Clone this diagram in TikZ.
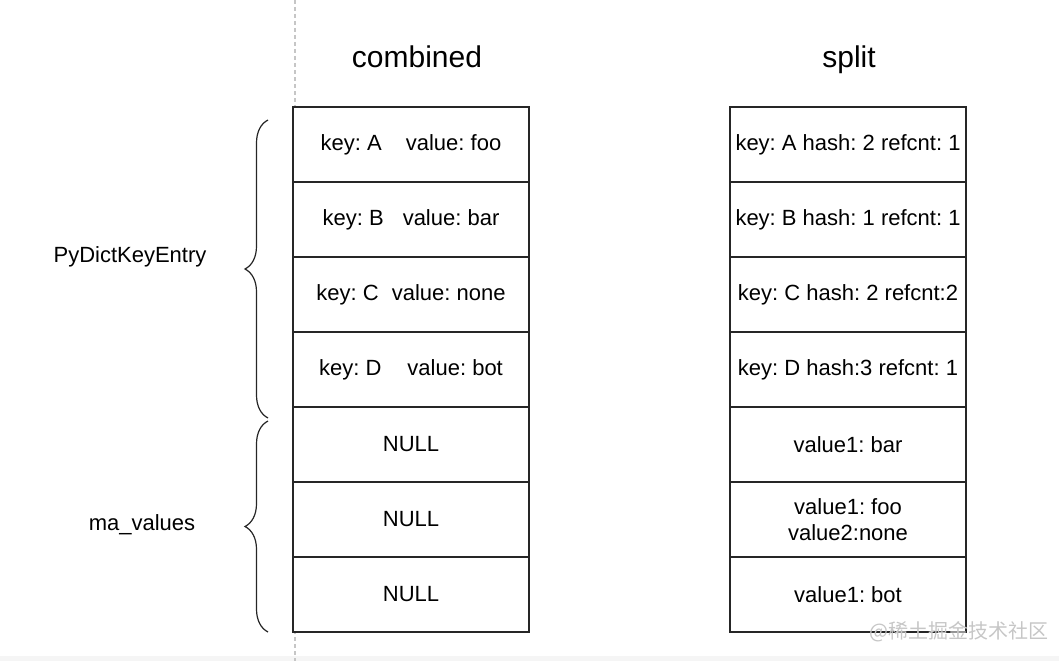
\documentclass[tikz,border=0pt]{standalone}
\usepackage{fontspec}
\setmainfont{Liberation Sans}
\newfontfamily\cjkfont{Noto Sans CJK SC}
\usetikzlibrary{positioning, decorations.pathreplacing}
\frenchspacing

\begin{document}
\begin{tikzpicture}[x=1pt, y=-1pt, font=\fontsize{22}{26}\selectfont,
    cell/.style={draw=linecolor, line width=1.3pt, fill=white, minimum width=236pt,
        minimum height=75pt, inner sep=0pt, outer sep=0pt, align=center},
    curly/.style={decorate, decoration={brace, amplitude=23pt}, draw=linecolor, line width=1.2pt},
    heading/.style={font=\fontsize{30}{36}\selectfont, anchor=base}]

    % Define colors
    \colorlet{linecolor}{black!85}
    \colorlet{guidecolor}{gray!45}

    \useasboundingbox (0,0) rectangle (1059,661);

    % ===== Background guide and bottom strip =====
    \fill[gray!8] (0,656) rectangle (1059,661);
    \draw[guidecolor, line width=1.2pt, dash pattern=on 4pt off 3pt] (295,0) -- (295,661);

    % 1. Headings
    \node[heading] (combined) at (417,67) {combined};
    \node[heading] (split) at (849,67) {split};

    % 2. Combined table
    \node[cell, anchor=north west] (c1) at (293,107) {key: A\hspace{24pt}value: foo};
    \node[cell, below=0pt of c1] (c2) {key: B\hspace{19pt}value: bar};
    \node[cell, below=0pt of c2] (c3) {key: C\hspace{13pt}value: none};
    \node[cell, below=0pt of c3] (c4) {key: D\hspace{26pt}value: bot};
    \node[cell, below=0pt of c4] (c5) {NULL};
    \node[cell, below=0pt of c5] (c6) {NULL};
    \node[cell, below=0pt of c6] (c7) {NULL};

    % 3. Split table
    \node[cell, anchor=north west] (s1) at (730,107) {key: A hash: 2 refcnt: 1};
    \node[cell, below=0pt of s1] (s2) {key: B hash: 1 refcnt: 1};
    \node[cell, below=0pt of s2] (s3) {key: C hash: 2 refcnt:2};
    \node[cell, below=0pt of s3] (s4) {key: D hash:3 refcnt: 1};
    \node[cell, below=0pt of s4] (s5) {value1: bar};
    \node[cell, below=0pt of s5] (s6) {value1: foo\\value2:none};
    \node[cell, below=0pt of s6] (s7) {value1: bot};

    % 4. Braces and their labels
    \coordinate (keyTop) at (268,120);
    \coordinate (keyBottom) at (268,418);
    \coordinate (valTop) at (268,421);
    \coordinate (valBottom) at (268,632);
    \draw[curly] (keyBottom) -- (keyTop);
    \draw[curly] (valBottom) -- (valTop);
    \node (keyLabel) at (130,257) {PyDictKeyEntry};
    \node (valLabel) at (142,525) {ma\_values};

    % 5. Watermark
    \node[text=gray!45, font=\cjkfont\fontsize{20}{24}\selectfont] (mark) at (959,632) {@稀土掘金技术社区};

\end{tikzpicture}
\end{document}
